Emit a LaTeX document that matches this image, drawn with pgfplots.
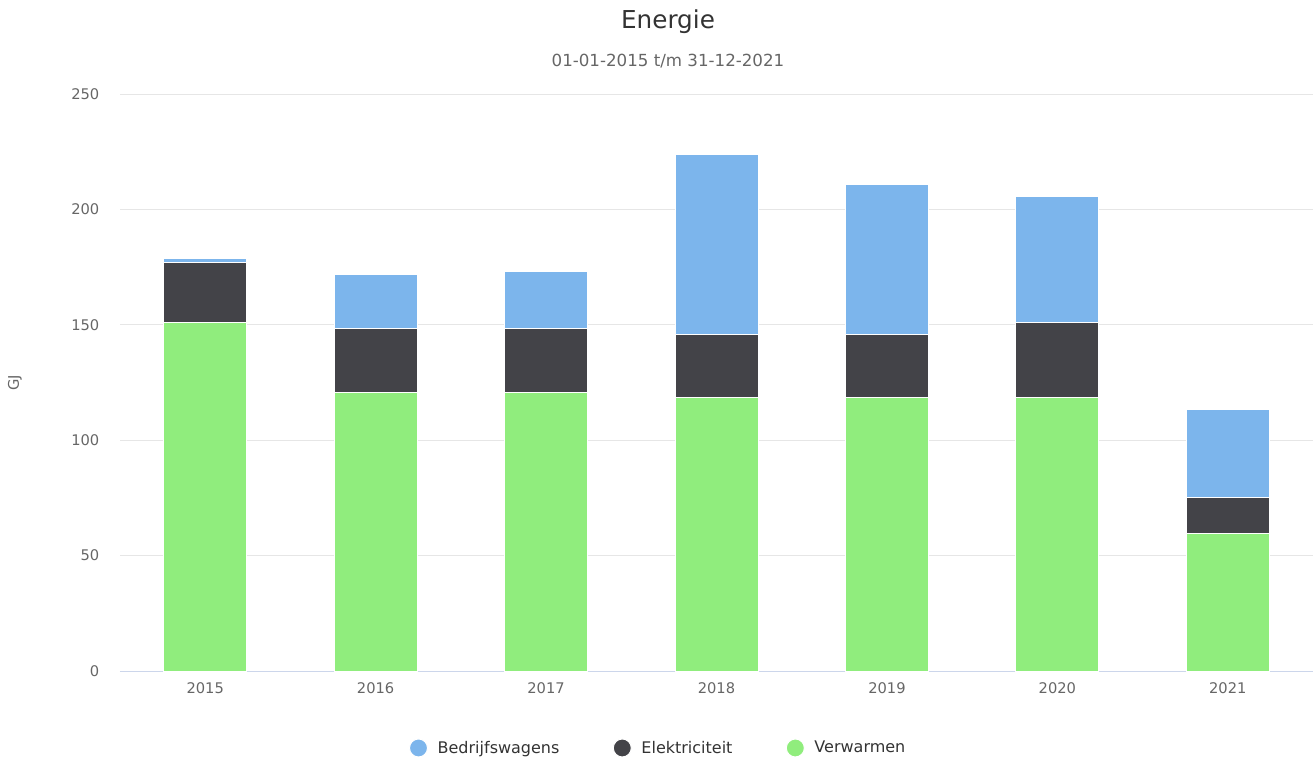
\documentclass[border=0pt]{standalone}
\usepackage{pgfplots}
\pgfplotsset{compat=1.18}
\usepackage{fontspec}
\setmainfont{DejaVu Sans}
\definecolor{cblue}{HTML}{7CB5EC}
\definecolor{cdark}{HTML}{434348}
\definecolor{cgreen}{HTML}{90ED7D}
\definecolor{tgray}{HTML}{666666}
\definecolor{ttitle}{HTML}{333333}
\definecolor{cgrid}{HTML}{E6E6E6}
\definecolor{caxis}{HTML}{CCD6EB}
\begin{document}
\begin{tikzpicture}
\useasboundingbox (-90pt,-65.25pt) rectangle (894.75pt,503.25pt);
\begin{axis}[
  at={(0pt,0pt)}, anchor=south west,
  scale only axis,
  width=894.75pt, height=432.75pt,
  ybar stacked,
  bar width=62.25pt,
  xmin=-0.5, xmax=6.5,
  ymin=0, ymax=250,
  xtick={0,1,2,3,4,5,6},
  xticklabels={2015,2016,2017,2018,2019,2020,2021},
  ytick={0,50,100,150,200,250},
  ymajorgrids,
  grid style={cgrid, line width=0.75pt},
  axis x line*=bottom,
  axis y line*=left,
  x axis line style={draw=caxis, line width=0.75pt, -},
  y axis line style={draw=none},
  major tick length=0pt,
  tick label style={text=tgray, font=\fontsize{11}{13}\selectfont},
  /pgf/number format/assume math mode=true,
  xticklabel style={yshift=-5pt},
  yticklabel style={xshift=-12pt},
  legend style={at={(0.4514,-0.1334)}, anchor=center, draw=none, fill=none,
     legend columns=3, font=\fontsize{12}{14}\selectfont, text=ttitle,
     /tikz/every odd column/.append style={column sep=5.25pt},
     /tikz/every even column/.append style={column sep=38pt}},
  legend cell align=left,
  reverse legend,
  legend image code/.code={\fill[#1] (0.2cm,0) circle (6.75pt);},
]
\addplot[fill=cgreen, draw=white, line width=0.75pt] coordinates {(0,151) (1,120.5) (2,120.5) (3,118.3) (4,118.3) (5,118.3) (6,59.4)};
\addlegendentry{Verwarmen}
\addplot[fill=cdark, draw=white, line width=0.75pt] coordinates {(0,26) (1,27.7) (2,27.7) (3,27.7) (4,27.7) (5,32.6) (6,15.9)};
\addlegendentry{Elektriciteit}
\addplot[fill=cblue, draw=white, line width=0.75pt] coordinates {(0,1.9) (1,23.4) (2,24.7) (3,78) (4,65) (5,54.6) (6,38)};
\addlegendentry{Bedrijfswagens}
\end{axis}
\node[text=ttitle,font=\fontsize{18.5}{22}\selectfont] at (411pt,486.75pt) {Energie};
\node[text=tgray,font=\fontsize{12.5}{15}\selectfont] at (411pt,457.5pt) {01-01-2015 t/m 31-12-2021};
\node[text=tgray,font=\fontsize{11}{13}\selectfont,rotate=90] at (-78.75pt,216pt) {GJ};
\end{tikzpicture}
\end{document}
